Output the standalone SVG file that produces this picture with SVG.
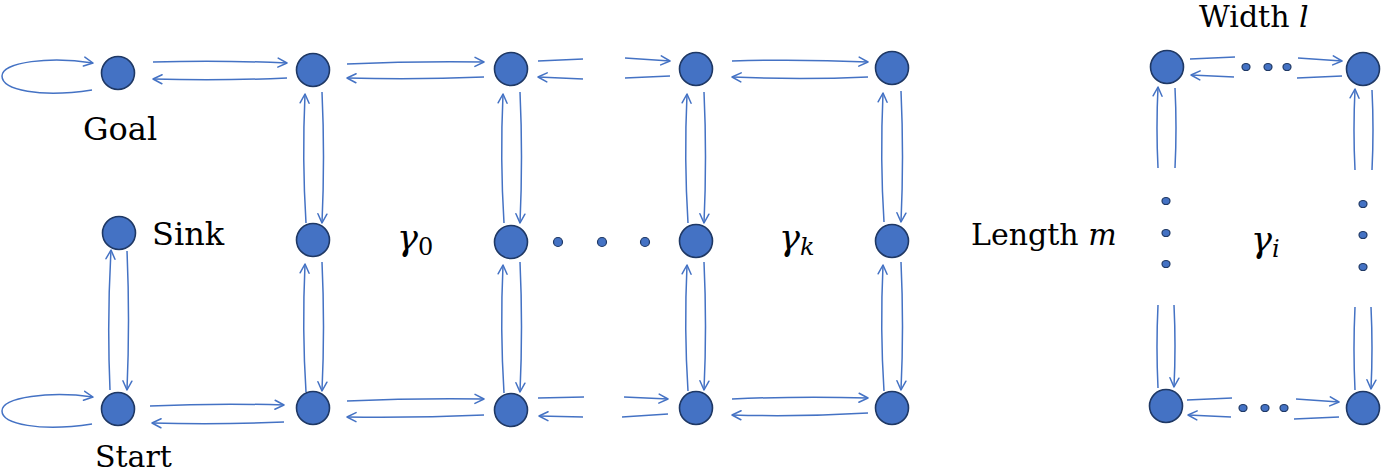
<svg xmlns="http://www.w3.org/2000/svg" width="1381" height="475" viewBox="0 0 1381 475">
<defs>
<marker id="ah" viewBox="0 0 12 12" refX="11" refY="6" markerWidth="12" markerHeight="12" markerUnits="userSpaceOnUse" orient="auto">
<path d="M2,1.5 L11,6 L2,10.5" fill="none" stroke="#4472C4" stroke-width="1.5" stroke-linecap="round" stroke-linejoin="round"/>
</marker>
<style>
.n{fill:#4472C4;stroke:#1F3864;stroke-width:1.6}
.d{fill:#4472C4;stroke:#1F3864;stroke-width:1.2}
.c path{fill:none;stroke:#4472C4;stroke-width:1.5}
.a{marker-end:url(#ah)}
text{font-family:'DejaVu Serif',serif;fill:#000}
</style>
</defs>
<rect width="1381" height="475" fill="#fff"/>

<g id="connectors" class="c">
<path class="a" d="M92,90 C40,98 2,90 2,76 C2,62 50,56 93,63"/>
<path class="a" d="M92,424 C40,432 2,424 2,411 C2,397 50,391 93,397"/>
<path class="a" d="M153,62 Q220,60 287,63"/>
<path class="a" d="M287,78 Q220,81 153,79"/>
<path class="a" d="M347,64 Q415,61 484,62"/>
<path class="a" d="M484,77 Q415,80 347,78"/>
<path d="M538,61 L583,59"/>
<path class="a" d="M625,58 L670,61"/>
<path class="a" d="M583,79 L538,77"/>
<path d="M625,78 L670,76"/>
<path class="a" d="M732,61 Q800,59 868,62"/>
<path class="a" d="M868,77 Q800,80 732,77"/>
<path class="a" d="M150,406 Q217,403 284,405"/>
<path class="a" d="M284,422 Q217,425 152,423"/>
<path class="a" d="M347,401 Q415,398 484,399"/>
<path class="a" d="M484,415 Q415,418 347,417"/>
<path d="M538,398 L584,397"/>
<path class="a" d="M624,397 L668,399"/>
<path class="a" d="M583,417 L539,416"/>
<path d="M622,417 L668,414"/>
<path class="a" d="M732,399 Q800,396 868,398"/>
<path class="a" d="M868,413 Q800,417 732,415"/>
<path class="a" d="M110,390 Q107,320 111,250"/>
<path class="a" d="M127,251 Q130,320 127,390"/>
<path class="a" d="M306,223 Q302,160 305,94"/>
<path class="a" d="M322,92 Q325,157 322,223"/>
<path class="a" d="M306,392 Q302,330 305,264"/>
<path class="a" d="M322,262 Q325,327 322,391"/>
<path class="a" d="M504,223 Q500,160 503,94"/>
<path class="a" d="M520,92 Q523,157 520,223"/>
<path class="a" d="M504,393 Q500,330 503,265"/>
<path class="a" d="M520,262 Q523,327 520,392"/>
<path class="a" d="M688,223 Q684,160 687,94"/>
<path class="a" d="M704,92 Q707,157 704,223"/>
<path class="a" d="M688,391 Q684,330 687,265"/>
<path class="a" d="M704,262 Q707,327 704,390"/>
<path class="a" d="M884,222 Q880,160 883,93"/>
<path class="a" d="M901,91 Q904,157 901,222"/>
<path class="a" d="M884,391 Q880,330 883,265"/>
<path class="a" d="M901,262 Q904,327 901,390"/>
<path d="M1190,59 L1235,57"/>
<path class="a" d="M1298,58 L1342,61"/>
<path class="a" d="M1234,77 L1191,75"/>
<path d="M1297,78 L1342,76"/>
<path d="M1187,400 L1232,398"/>
<path class="a" d="M1296,399 L1339,402"/>
<path class="a" d="M1231,417 L1188,415"/>
<path d="M1294,419 L1339,417"/>
<path class="a" d="M1158,168 Q1156,128 1158,87"/>
<path d="M1175,88 Q1177,128 1175,168"/>
<path d="M1158,305 Q1156,347 1158,388"/>
<path class="a" d="M1174,305 Q1176,346 1174,387"/>
<path class="a" d="M1355,170 Q1353,130 1355,89"/>
<path d="M1372,90 Q1374,130 1372,170"/>
<path d="M1355,307 Q1353,349 1355,390"/>
<path class="a" d="M1371,307 Q1373,348 1371,389"/>
</g>

<g id="node-goal"><circle class="n" cx="118" cy="73" r="16.5"/><text x="83" y="140" font-size="32">Goal</text></g>
<g id="node-sink"><circle class="n" cx="119" cy="233" r="16.5"/><text x="152" y="245" font-size="32">Sink</text></g>
<g id="node-start"><circle class="n" cx="118" cy="409" r="16.5"/><text x="95" y="467" font-size="30">Start</text></g>

<g id="node-b1"><circle class="n" cx="313" cy="70" r="16.5"/></g>
<g id="node-b2"><circle class="n" cx="313" cy="240" r="16.5"/></g>
<g id="node-b3"><circle class="n" cx="313" cy="408" r="16.5"/></g>
<g id="node-c1"><circle class="n" cx="511" cy="69" r="16.5"/></g>
<g id="node-c2"><circle class="n" cx="511" cy="242" r="16.5"/></g>
<g id="node-c3"><circle class="n" cx="511" cy="410" r="16.5"/></g>
<g id="node-d1"><circle class="n" cx="696" cy="69" r="16.5"/></g>
<g id="node-d2"><circle class="n" cx="696" cy="241" r="16.5"/></g>
<g id="node-d3"><circle class="n" cx="696" cy="408" r="16.5"/></g>
<g id="node-e1"><circle class="n" cx="892" cy="68" r="16.5"/></g>
<g id="node-e2"><circle class="n" cx="892" cy="241" r="16.5"/></g>
<g id="node-e3"><circle class="n" cx="892" cy="408" r="16.5"/></g>

<g id="dots-mid"><circle class="d" cx="558" cy="242" r="4.5"/><circle class="d" cx="602" cy="242" r="4.5"/><circle class="d" cx="645" cy="242" r="4.5"/></g>

<g id="label-gamma0"><text x="397" y="250" font-size="35" font-style="italic">γ<tspan font-style="normal" font-size="24" dy="5">0</tspan></text></g>
<g id="label-gammak"><text x="779" y="250" font-size="35" font-style="italic">γ<tspan font-size="24" dy="5">k</tspan></text></g>
<g id="label-length"><text x="971" y="245" font-size="30">Length <tspan font-style="italic">m</tspan></text></g>
<g id="label-width"><text x="1199" y="27" font-size="30">Width <tspan font-style="italic">l</tspan></text></g>
<g id="label-gammai"><text x="1251" y="252" font-size="35" font-style="italic">γ<tspan font-size="24" dy="5">i</tspan></text></g>

<g id="node-r1"><circle class="n" cx="1167" cy="67" r="16.5"/></g>
<g id="node-r2"><circle class="n" cx="1363" cy="69" r="16.5"/></g>
<g id="node-r3"><circle class="n" cx="1166" cy="406" r="16.5"/></g>
<g id="node-r4"><circle class="n" cx="1363" cy="408" r="16.5"/></g>

<g id="dots-right">
<ellipse class="d" cx="1246" cy="67" rx="4" ry="3.5"/><ellipse class="d" cx="1268" cy="67" rx="4" ry="3.5"/><ellipse class="d" cx="1287" cy="67" rx="4" ry="3.5"/>
<ellipse class="d" cx="1243" cy="408" rx="4" ry="3.5"/><ellipse class="d" cx="1265" cy="408" rx="4" ry="3.5"/><ellipse class="d" cx="1284" cy="408" rx="4" ry="3.5"/>
<ellipse class="d" cx="1166" cy="201" rx="4" ry="3.5"/><ellipse class="d" cx="1166" cy="233" rx="4" ry="3.5"/><ellipse class="d" cx="1166" cy="264" rx="4" ry="3.5"/>
<ellipse class="d" cx="1363" cy="204" rx="4" ry="3.5"/><ellipse class="d" cx="1363" cy="235" rx="4" ry="3.5"/><ellipse class="d" cx="1363" cy="267" rx="4" ry="3.5"/>
</g>
</svg>
